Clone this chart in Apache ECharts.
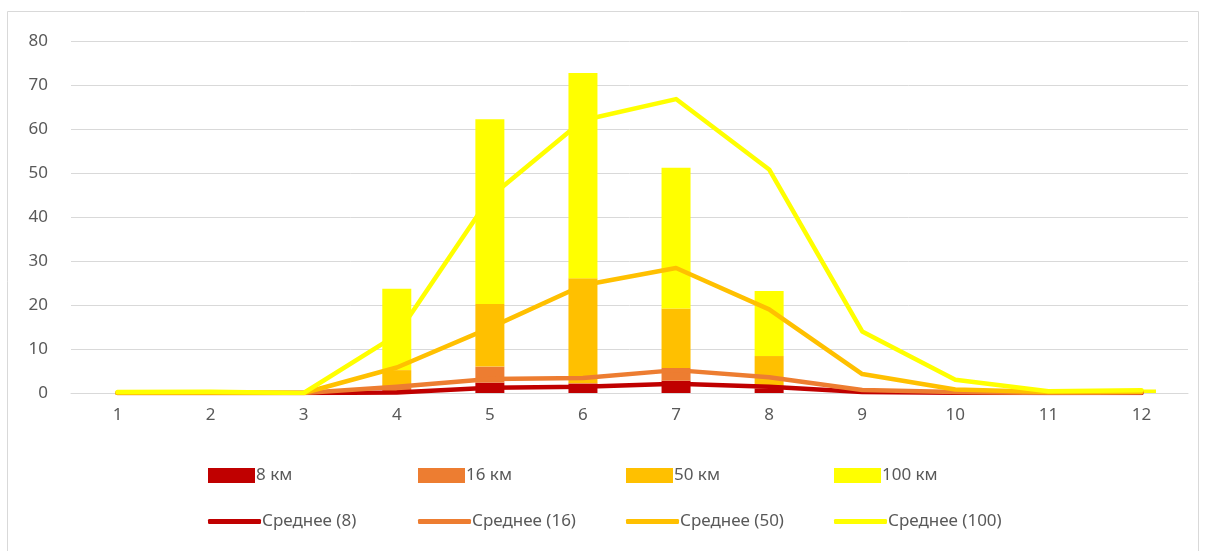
<!DOCTYPE html>
<html>
<head>
<meta charset="utf-8">
<script src="https://cdn.jsdelivr.net/npm/echarts@6/dist/echarts.min.js"></script>
<style>
  html, body { margin: 0; padding: 0; background: #fff; }
  #chart { width: 1205px; height: 551px; }
</style>
</head>
<body>
<div id="chart"></div>
<script>
// Categories along the x axis
const categories = ['1', '2', '3', '4', '5', '6', '7', '8', '9', '10', '11', '12'];

// Stacked bar values per distance
const km8   = [0, 0, 0, 0.3, 2.35, 2.1, 2.8, 1.0, 0, 0, 0, 0];
const km16  = [0, 0, 0, 1.0, 3.65, 0.2, 2.9, 0.8, 0, 0, 0, 0];
const km50  = [0, 0, 0, 3.9, 14.2, 23.8, 13.5, 6.6, 0, 0, 0, 0];
const km100 = [0, 0, 0, 18.5, 42.0, 46.6, 32.0, 14.8, 0, 0, 0, 0.8];

// Average lines
const avg8   = [0, 0, 0, 0.1, 1.2, 1.4, 2.1, 1.4, 0.2, 0.05, 0, 0];
const avg16  = [0, 0, 0, 1.4, 3.2, 3.4, 5.2, 3.6, 0.7, 0.2, 0, 0.1];
const avg50  = [0, 0, 0, 5.8, 14.8, 24.5, 28.4, 19.0, 4.3, 0.8, 0.2, 0.3];
const avg100 = [0.2, 0.3, 0, 13.2, 44.5, 62.0, 66.8, 50.8, 14.0, 3.0, 0.4, 0.6];

const barNames  = ['8 км', '16 км', '50 км', '100 км'];
const lineNames = ['Среднее (8)', 'Среднее (16)', 'Среднее (50)', 'Среднее (100)'];
const colors = ['#C00000', '#ED7D31', '#FFC000', '#FFFF00'];

const barData = [km8, km16, km50, km100];
const lineData = [avg8, avg16, avg50, avg100];

const FONT = 'Noto Sans';
const TEXT = '#595959';
const FS = 17;

const series = [];
barData.forEach((d, i) => {
  series.push({
    name: barNames[i],
    type: 'bar',
    stack: 'total',
    data: d,
    barWidth: 29,
    itemStyle: { color: colors[i] },
    emphasis: { disabled: true },
    z: 2
  });
});
lineData.forEach((d, i) => {
  series.push({
    name: lineNames[i],
    type: 'line',
    data: d,
    symbol: 'none',
    showSymbol: false,
    lineStyle: { color: colors[i], width: 4.5, cap: 'round', join: 'round' },
    itemStyle: { color: colors[i] },
    emphasis: { disabled: true },
    z: 3 + i
  });
});

// One legend per item so each entry sits in its own column
const legendX = [203, 413, 621, 829];
const legends = [];
barNames.forEach((n, i) => {
  legends.push({
    data: [n], left: legendX[i], top: 462, itemWidth: 47, itemHeight: 15, itemGap: 0,
    icon: 'rect',
    textStyle: { fontFamily: FONT, fontSize: FS, color: TEXT, padding: [0, 0, 0, -4] }
  });
});
lineNames.forEach((n, i) => {
  legends.push({
    data: [n], left: legendX[i], top: 508, itemWidth: 53, itemHeight: 5, itemGap: 0,
    icon: 'roundRect',
    itemStyle: { borderWidth: 0 },
    textStyle: { fontFamily: FONT, fontSize: FS, color: TEXT, padding: [0, 0, 0, -4] }
  });
});

const chart = echarts.init(document.getElementById('chart'), null, { renderer: 'canvas' });
chart.setOption({
  animation: false,
  backgroundColor: '#ffffff',
  textStyle: { fontFamily: FONT },
  graphic: [{
    type: 'rect',
    shape: { x: 7.5, y: 11.5, width: 1191, height: 560 },
    style: { fill: 'none', stroke: '#D9D9D9', lineWidth: 1 },
    silent: true
  }],
  grid: { left: 71, right: 17, top: 41, bottom: 158 },
  legend: legends,
  xAxis: {
    type: 'category',
    data: categories,
    axisLine: { show: true, lineStyle: { color: '#D9D9D9', width: 1 } },
    axisTick: { show: false },
    axisLabel: { fontFamily: FONT, fontSize: FS, color: TEXT, margin: 14 }
  },
  yAxis: {
    type: 'value',
    min: 0, max: 80, interval: 10,
    axisLine: { show: false },
    axisTick: { show: false },
    splitLine: { lineStyle: { color: '#D9D9D9', width: 1 } },
    axisLabel: { fontFamily: FONT, fontSize: FS, color: TEXT, margin: 23 }
  },
  series: series
});
</script>
</body>
</html>
